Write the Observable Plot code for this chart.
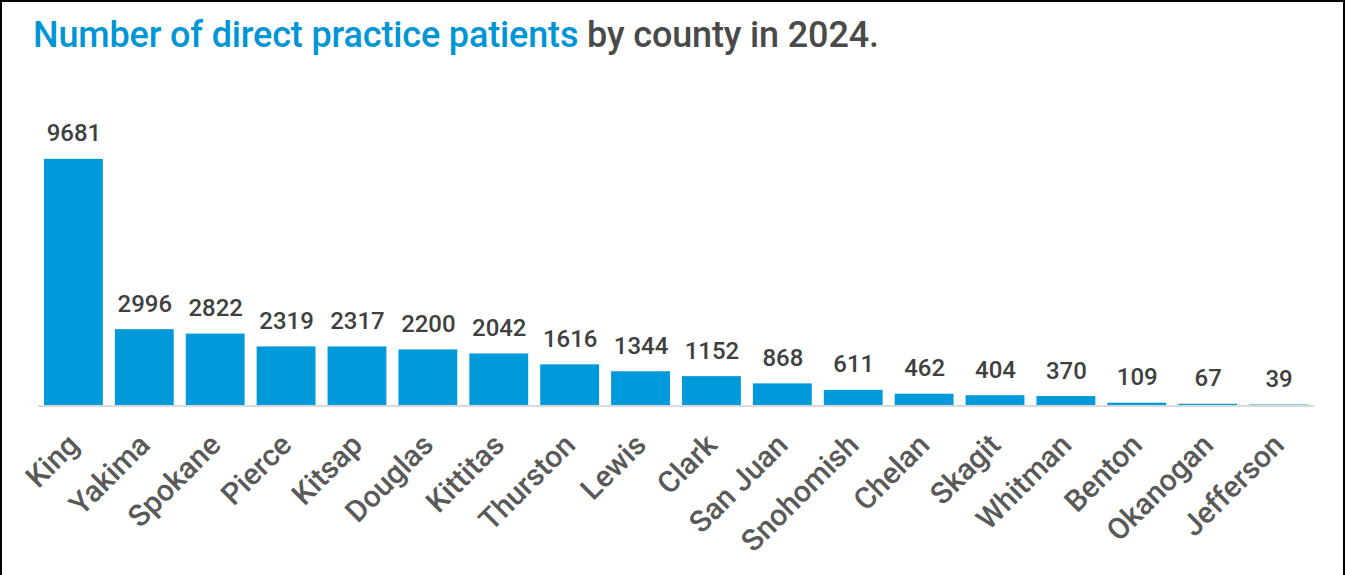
<!DOCTYPE html>
<html>
<head>
<meta charset="utf-8">
<script src="https://cdn.jsdelivr.net/npm/d3@7"></script>
<script src="https://cdn.jsdelivr.net/npm/@observablehq/plot@0.6"></script>
<style>
  html, body { margin: 0; padding: 0; background: #fff; }
  #frame { position: relative; width: 1345px; height: 575px; box-sizing: border-box;
    border-left: 2px solid #000; border-top: 2px solid #000; border-right: 2px solid #000; overflow: hidden;
    font-family: Roboto, "Liberation Sans", Arial, sans-serif; }
  #title { position: absolute; left: 31px; top: 12px; font-size: 36px; font-weight: 500; white-space: nowrap; letter-spacing: -0.15px; }
  #title .hl { color: #0096D6; }
  #title .rest { color: #4a4a4a; }
  #chart { position: absolute; left: -2px; top: 68px; }
</style>
</head>
<body>
<div id="frame">
  <div id="title"><span class="hl">Number of direct practice patients</span><span class="rest"> by county in 2024.</span></div>
  <div id="chart"></div>
</div>
<script>
const counties = ["King","Yakima","Spokane","Pierce","Kitsap","Douglas","Kittitas","Thurston","Lewis","Clark","San Juan","Snohomish","Chelan","Skagit","Whitman","Benton","Okanogan","Jefferson"];
const patients = [9681,2996,2822,2319,2317,2200,2042,1616,1344,1152,868,611,462,404,370,109,67,39];

const data = counties.map((c, i) => ({county: c, value: patients[i]}));

const W = 1345, H = 505;
const plot = Plot.plot({
  width: W,
  height: H,
  marginTop: 89,
  marginBottom: 169,
  marginLeft: 38,
  marginRight: 29,
  style: {fontFamily: "Roboto, 'Liberation Sans', Arial, sans-serif", background: "transparent"},
  x: {domain: counties, paddingInner: 0.17, paddingOuter: 0.085, round: false, label: null},
  y: {domain: [0, 9681], axis: null},
  marks: [
    Plot.barY(data, {x: "county", y: "value", fill: "#0099DA"}),
    Plot.ruleY([0], {stroke: "#d9d9d9", strokeWidth: 2}),
    Plot.text(data, {x: "county", y: "value", text: d => String(d.value), lineAnchor: "bottom", dy: -18,
      fill: "#404040", fontSize: 24, fontWeight: 500}),
    Plot.axisX({tickRotate: -45, tickSize: 0, tickPadding: 34, fontSize: 30, fontWeight: 500, color: "#595959", label: null})
  ]
});
document.getElementById("chart").appendChild(plot);
</script>
</body>
</html>
